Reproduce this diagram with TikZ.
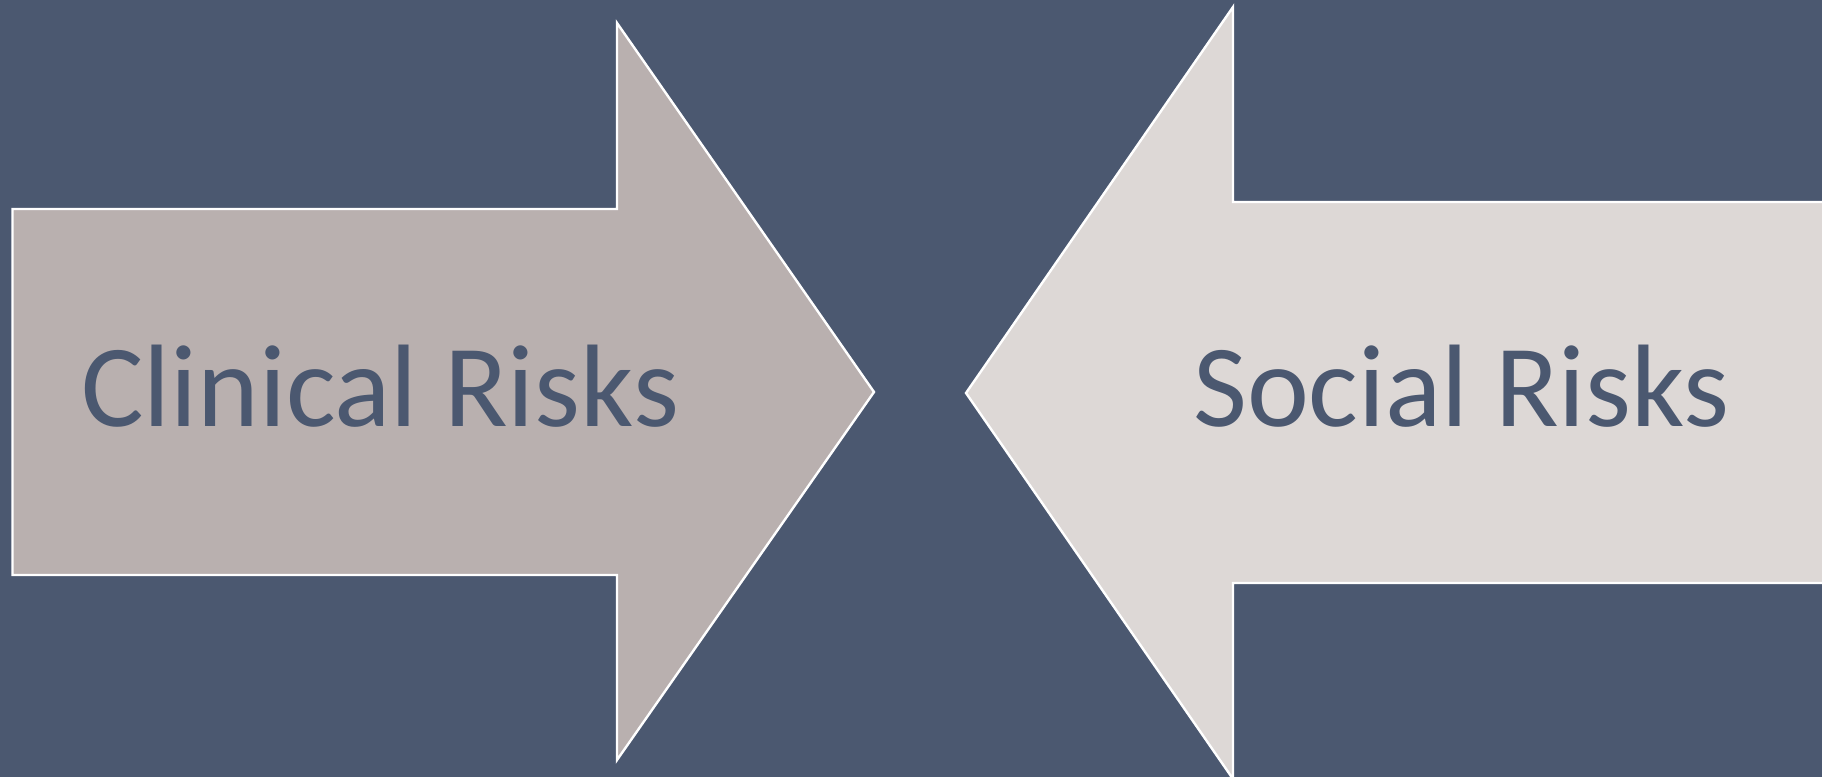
\documentclass[tikz,border=0pt]{standalone}
\usepackage{fontspec}
\setmainfont{Carlito}
\definecolor{slate}{RGB}{75,88,112}
\definecolor{clinicalfill}{RGB}{185,176,175}
\definecolor{socialfill}{RGB}{221,216,214}

\begin{document}
\begin{tikzpicture}[x=0.75pt,y=0.75pt,yscale=-1,xscale=1]
\useasboundingbox (0,0) rectangle (1822,777);
\clip (0,0) rectangle (1822,777);

%Shape: Rectangle [background]
\fill [color=slate] (0,0) rectangle (1822,777);
%Shape: Right Arrow [clinical]
\draw [color=white, line width=1.8pt, fill=clinicalfill, line join=miter] (12.5,209) -- (617,209) -- (617,23) -- (874,392) -- (617,760) -- (617,575) -- (12.5,575) -- cycle ;
%Shape: Left Arrow [social]
\draw [color=white, line width=1.8pt, fill=socialfill, line join=miter] (1850,202) -- (1233,202) -- (1233,7) -- (966,393) -- (1233,779) -- (1233,583) -- (1850,583) -- cycle ;

% Text Node
\node [anchor=base west, inner sep=0pt, text=slate, font=\fontsize{88}{105}\selectfont] (clinical) at (81,426) {Clinical Risks};
% Text Node
\node [anchor=base west, inner sep=0pt, text=slate, font=\fontsize{88}{105}\selectfont] (social) at (1193,426) {Social Risks};

\end{tikzpicture}
\end{document}
